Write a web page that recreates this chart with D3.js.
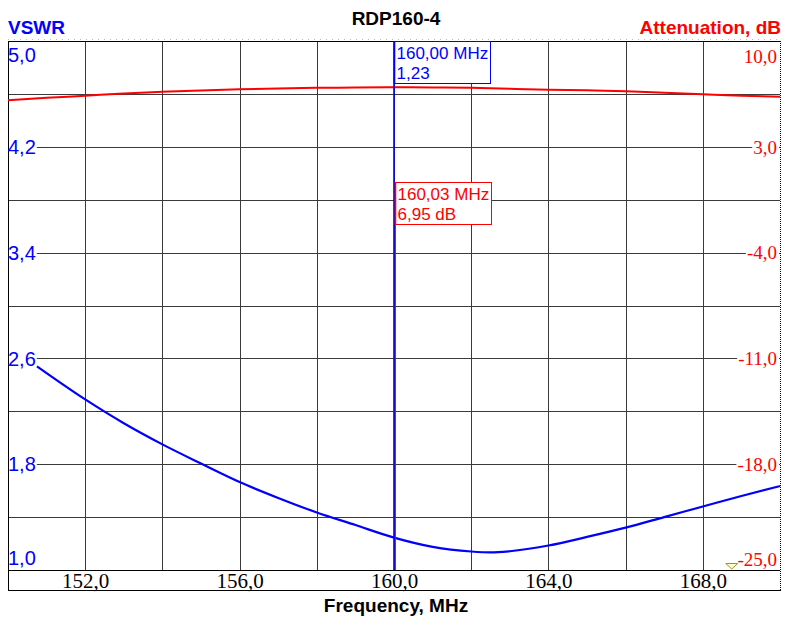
<!DOCTYPE html>
<html><head><meta charset="utf-8">
<script src="https://cdn.jsdelivr.net/npm/d3@7"></script>
<style>body{margin:0;background:#fff}svg{display:block}</style>
</head><body>
<svg id="c" width="789" height="626"></svg>
<script>
// ---- data ----
const title = "RDP160-4";
const leftTitle = "VSWR";
const rightTitle = "Attenuation, dB";
const xTitle = "Frequency, MHz";
const xTicks = [152, 156, 160, 164, 168];
const xGrid = [152, 154, 156, 158, 160, 162, 164, 166, 168];
const vswrTicks = [1.0, 1.8, 2.6, 3.4, 4.2, 5.0];
const vswrGrid = [1.4, 1.8, 2.2, 2.6, 3.0, 3.4, 3.8, 4.2, 4.6];
const attTicks = [10, 3, -4, -11, -18, -25];
const vswrFreq = [150.75, 152, 153, 154, 155, 156, 157, 158, 159, 160, 161, 162, 162.5, 163, 164, 165, 166, 167, 168, 169, 170];
const vswrVal  = [2.54, 2.29, 2.11, 1.95, 1.805, 1.665, 1.545, 1.435, 1.34, 1.245, 1.175, 1.14, 1.133, 1.142, 1.185, 1.25, 1.32, 1.40, 1.48, 1.56, 1.635];
const attFreq = [150, 151, 152, 153, 154, 155, 156, 157, 158, 159, 160, 161, 162, 163, 164, 165, 166, 167, 168, 169, 170];
const attVal  = [6.08, 6.24, 6.38, 6.53, 6.64, 6.73, 6.81, 6.86, 6.90, 6.92, 6.94, 6.93, 6.90, 6.84, 6.78, 6.74, 6.68, 6.58, 6.48, 6.38, 6.31];
const markerVswr = {freq: 160.00, value: 1.23, line1: "160,00 MHz", line2: "1,23"};
const markerAtt  = {freq: 160.03, value: 6.95, line1: "160,03 MHz", line2: "6,95 dB"};
const triangleFreq = 168.75;

// ---- drawing ----
const BLUE = "#0000ff", RED = "#ff0000", GRID = "#3a3a3a";
const L = 8, R = 780, T = 41, B = 570;
const svg = d3.select("#c");
const x = d3.scaleLinear().domain([150, 170]).range([L, R]);
const yL = d3.scaleLinear().domain([1, 5]).range([B, T]);
const yR = d3.scaleLinear().domain([-25, 10]).range([B, T]);
const fmt1 = v => d3.format(".1f")(v).replace(".", ",").replace("−", "-");
const cx = v => Math.round(v) + 0.5;

// titles
svg.append("text").attr("x", 396).attr("y", 25).attr("text-anchor", "middle")
  .attr("font-family", "Liberation Sans, Arial, sans-serif").attr("font-weight", "bold")
  .attr("font-size", 19).attr("fill", "#000").text(title);
svg.append("text").attr("x", 8).attr("y", 34)
  .attr("font-family", "Liberation Sans, Arial, sans-serif").attr("font-weight", "bold")
  .attr("font-size", 19).attr("fill", BLUE).text(leftTitle);
svg.append("text").attr("x", 781).attr("y", 34).attr("text-anchor", "end")
  .attr("font-family", "Liberation Sans, Arial, sans-serif").attr("font-weight", "bold")
  .attr("font-size", 19).attr("fill", RED).text(rightTitle);
svg.append("text").attr("x", 396).attr("y", 612).attr("text-anchor", "middle")
  .attr("font-family", "Liberation Sans, Arial, sans-serif").attr("font-weight", "bold")
  .attr("font-size", 19).attr("fill", "#000").text(xTitle);

// dotted line above
svg.append("line").attr("x1", L).attr("x2", R).attr("y1", 39.5).attr("y2", 39.5)
  .attr("stroke", "#bbb").attr("stroke-dasharray", "1,5");

// grid
const grid = svg.append("g");
grid.selectAll(".vg").data(xGrid).join("line")
  .attr("x1", d => cx(x(d))).attr("x2", d => cx(x(d))).attr("y1", T).attr("y2", B)
  .attr("stroke", GRID).attr("stroke-width", 1);
grid.selectAll(".hg").data(vswrGrid).join("line")
  .attr("y1", d => cx(yL(d))).attr("y2", d => cx(yL(d))).attr("x1", L).attr("x2", R)
  .attr("stroke", GRID).attr("stroke-width", 1);

// frame
svg.append("line").attr("x1", L + 0.5).attr("x2", L + 0.5).attr("y1", T).attr("y2", 590.5).attr("stroke", "#000");
svg.append("line").attr("x1", L).attr("x2", R).attr("y1", T + 0.5).attr("y2", T + 0.5).attr("stroke", "#000");
svg.append("line").attr("x1", L).attr("x2", R).attr("y1", B + 0.5).attr("y2", B + 0.5).attr("stroke", "#000");
svg.append("line").attr("x1", L).attr("x2", R + 1).attr("y1", 590.5).attr("y2", 590.5).attr("stroke", "#000");
svg.append("line").attr("x1", R + 0.5).attr("x2", R + 0.5).attr("y1", T).attr("y2", 591)
  .attr("stroke", "#000").attr("stroke-dasharray", "1,1");

// curves
const attLine = d3.line().x(d => x(d[0])).y(d => yR(d[1])).curve(d3.curveMonotoneX);
svg.append("path").datum(d3.zip(attFreq, attVal)).attr("d", attLine)
  .attr("fill", "none").attr("stroke", RED).attr("stroke-width", 2);
const vLine = d3.line().x(d => x(d[0])).y(d => yL(d[1])).curve(d3.curveMonotoneX);
svg.append("path").datum(d3.zip(vswrFreq, vswrVal)).attr("d", vLine)
  .attr("fill", "none").attr("stroke", BLUE).attr("stroke-width", 2.2);

// left labels
const lg = svg.append("g").attr("font-family", "Liberation Sans, Arial, sans-serif").attr("font-size", 20).attr("fill", BLUE);
vswrTicks.forEach((v, i) => {
  let yc = yL(v);
  if (i === 0) yc -= 12; if (i === vswrTicks.length - 1) yc += 14;
  const t = lg.append("text").attr("x", L).attr("y", yc).attr("dy", "0.36em").text(fmt1(v));
  const bb = t.node().getBBox();
  if (i > 0 && i < vswrTicks.length - 1)
    lg.insert("rect", "text").attr("x", L + 1).attr("y", yc - 8).attr("width", bb.width).attr("height", 16).attr("fill", "#fff");
});

// right labels
const rg = svg.append("g").attr("font-family", "Liberation Serif, Times New Roman, serif").attr("font-size", 19).attr("fill", RED);
attTicks.forEach((v, i) => {
  let yc = yR(v);
  if (i === 0) yc += 15; if (i === attTicks.length - 1) yc -= 11;
  const t = rg.append("text").attr("x", R - 3).attr("y", yc).attr("dy", "0.36em").attr("text-anchor", "end").text(fmt1(v));
  const bb = t.node().getBBox();
  if (i > 0 && i < attTicks.length - 1)
    rg.insert("rect", "text").attr("x", bb.x - 1).attr("y", yc - 8).attr("width", R - 1 - (bb.x - 1)).attr("height", 16).attr("fill", "#fff");
});

// bottom axis
const xa = svg.append("g").attr("transform", `translate(0,${B})`)
  .call(d3.axisBottom(x).tickValues(xTicks).tickSize(0).tickPadding(3).tickFormat(fmt1));
xa.select(".domain").remove();
xa.selectAll("text").attr("font-family", "Liberation Serif, Times New Roman, serif").attr("font-size", 21).attr("fill", "#000");

// marker lines
svg.append("line").attr("x1", x(markerVswr.freq)).attr("x2", x(markerVswr.freq)).attr("y1", T).attr("y2", B)
  .attr("stroke", BLUE).attr("stroke-width", 1.6);
svg.append("line").attr("x1", x(markerAtt.freq) + 0.3).attr("x2", x(markerAtt.freq) + 0.3).attr("y1", 182).attr("y2", B)
  .attr("stroke", RED).attr("stroke-width", 1);

// marker boxes
function box(m, y0, col) {
  const bx = Math.round(x(m.freq)) + 0.5;
  svg.append("rect").attr("x", bx).attr("y", y0 + 0.5).attr("width", 96).attr("height", 42)
    .attr("fill", "#fff").attr("stroke", col).attr("stroke-width", 1);
  svg.append("line").attr("x1", bx).attr("x2", bx).attr("y1", y0).attr("y2", y0 + 43).attr("stroke", col).attr("stroke-width", 1.6);
  const g = svg.append("g").attr("font-family", "Liberation Sans, Arial, sans-serif").attr("font-size", 17).attr("fill", col);
  g.append("text").attr("x", bx + 2).attr("y", y0 + 18).text(m.line1);
  g.append("text").attr("x", bx + 2).attr("y", y0 + 38).text(m.line2);
}
box(markerVswr, 41, BLUE);
box(markerAtt, 182, RED);

// small triangle marker
const tx = x(triangleFreq);
svg.append("path").attr("d", `M${tx - 6},563.5 L${tx + 6},563.5 L${tx},569 Z`)
  .attr("fill", "#ffffd0").attr("stroke", "#9a9a20").attr("stroke-width", 1);
</script>
</body></html>
